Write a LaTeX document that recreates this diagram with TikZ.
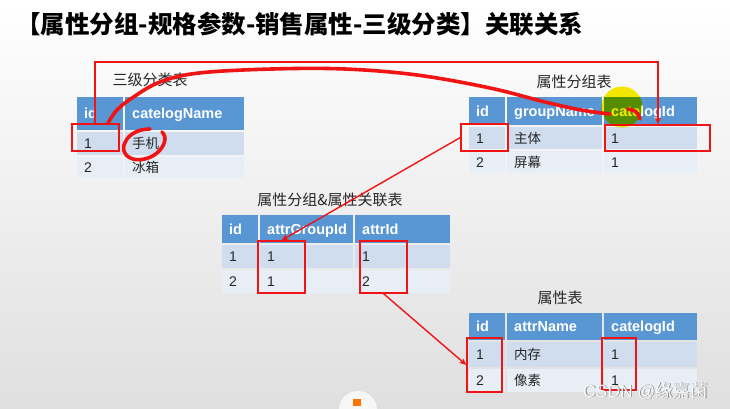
\documentclass[tikz,border=0pt]{standalone}
\usepackage{fontspec}
\setmainfont{Liberation Sans}
\newfontfamily\cjk{Noto Sans CJK SC}
\usetikzlibrary{arrows.meta}
\definecolor{hdrblue}{RGB}{88,150,212}
\definecolor{rowa}{RGB}{207,221,238}
\definecolor{rowb}{RGB}{232,238,246}
\definecolor{redc}{RGB}{240,20,20}
\definecolor{hl}{RGB}{250,238,0}
\newcommand\tc[8]{\fill[#6] (#2,#3) rectangle (#4,#5);
  \node[#7] (#1) at ({#2+7},{(#3+#5)/2+5}) {#8};}
\newcommand\rbox[5]{\node[redbox, minimum width={(#4-#2)*1pt}, minimum height={(#5-#3)*1pt}] (#1) at ({(#2+#4)/2},{(#3+#5)/2}) {};}
\begin{document}
\begin{tikzpicture}[x=1pt,y=-1pt,
  hdr/.style={anchor=base west, inner sep=0pt, text=white, font=\fontsize{14.5}{16}\selectfont\bfseries},
  bd/.style={anchor=base west, inner sep=0pt, text=black!85, font=\fontsize{14}{16}\selectfont},
  bdc/.style={anchor=base west, inner sep=0pt, text=black!85, font=\cjk\fontsize{13.5}{16}\selectfont},
  ttl/.style={inner sep=0pt, text=black!85, font=\cjk\fontsize{15}{17}\selectfont},
  redbox/.style={draw=redc, line width=1.3pt, inner sep=0pt, fill=none},
  redarrow/.style={draw=redc, line width=1.4pt, -{Stealth[length=7pt,width=6pt]}},
  hand/.style={draw=redc, line width=3.6pt, line cap=round, line join=round}]
\useasboundingbox (0,0) rectangle (730,408);
\shade[top color=white, bottom color=gray!25] (0,0) rectangle (730,408);

% title
\node[anchor=west, inner sep=0pt, font=\cjk\bfseries\fontsize{24.5}{27}\selectfont] (title) at (16,24) {【属性分组-规格参数-销售属性-三级分类】关联关系};

% table A
\node[ttl] (tA) at (150,80) {三级分类表};
\tc{Ah1}{77}{97}{123}{130}{hdrblue}{hdr}{id}
\tc{Ah2}{125}{97}{244}{130}{hdrblue}{hdr}{catelogName}
\tc{A11}{77}{132}{123}{155}{rowa}{bd}{1}
\tc{A12}{125}{132}{244}{155}{rowa}{bdc}{手机}
\tc{A21}{77}{157}{123}{178}{rowb}{bd}{2}
\tc{A22}{125}{157}{244}{178}{rowb}{bdc}{冰箱}

% table B
\node[ttl] (tB) at (574,82) {属性分组表};
\tc{Bh1}{469}{97}{505}{125}{hdrblue}{hdr}{id}
\tc{Bh2}{507}{97}{602}{125}{hdrblue}{hdr}{groupName}
\tc{Bh3}{604}{97}{697}{125}{hdrblue}{hdr}{catelogId}
\tc{B11}{469}{127}{505}{149}{rowa}{bd}{1}
\tc{B12}{507}{127}{602}{149}{rowa}{bdc}{主体}
\tc{B13}{604}{127}{697}{149}{rowa}{bd}{1}
\tc{B21}{469}{151}{505}{173}{rowb}{bd}{2}
\tc{B22}{507}{151}{602}{173}{rowb}{bdc}{屏幕}
\tc{B23}{604}{151}{697}{173}{rowb}{bd}{1}

% table C
\node[ttl] (tC) at (330,200) {属性分组\&属性关联表};
\tc{Ch1}{222}{215}{258}{243}{hdrblue}{hdr}{id}
\tc{Ch2}{260}{215}{353}{243}{hdrblue}{hdr}{attrGroupId}
\tc{Ch3}{355}{215}{450}{243}{hdrblue}{hdr}{attrId}
\tc{C11}{222}{245}{258}{268}{rowa}{bd}{1}
\tc{C12}{260}{245}{353}{268}{rowa}{bd}{1}
\tc{C13}{355}{245}{450}{268}{rowa}{bd}{1}
\tc{C21}{222}{270}{258}{293}{rowb}{bd}{2}
\tc{C22}{260}{270}{353}{293}{rowb}{bd}{1}
\tc{C23}{355}{270}{450}{293}{rowb}{bd}{2}

% table D
\node[ttl] (tD) at (560,298) {属性表};
\tc{Dh1}{469}{313}{505}{340}{hdrblue}{hdr}{id}
\tc{Dh2}{507}{313}{602}{340}{hdrblue}{hdr}{attrName}
\tc{Dh3}{604}{313}{697}{340}{hdrblue}{hdr}{catelogId}
\tc{D11}{469}{342}{505}{367}{rowa}{bd}{1}
\tc{D12}{507}{342}{602}{367}{rowa}{bdc}{内存}
\tc{D13}{604}{342}{697}{367}{rowa}{bd}{1}
\tc{D21}{469}{369}{505}{392}{rowb}{bd}{2}
\tc{D22}{507}{369}{602}{392}{rowb}{bdc}{像素}
\tc{D23}{604}{369}{697}{392}{rowb}{bd}{1}

% red boxes
\rbox{rA}{72}{124}{119}{151}
\rbox{rB1}{461}{124}{508}{151}
\rbox{rB3}{605}{125}{710}{151}
\rbox{rC2}{258}{241}{305}{293}
\rbox{rC3}{360}{241}{407}{293}
\rbox{rD1}{467}{338}{502}{392}
\rbox{rD3}{602}{338}{636}{390}

% connectors
\draw[redarrow] ([xshift=-0.5pt]rA.north) -- ++(0,-61.5) -| ([xshift=0.5pt]rB3.north);
\draw[redarrow] (rB1.west) -- (rC2.north);
\draw[redarrow] (rC3.south) -- (rD1.west);

% highlight
\begin{scope}[blend mode=multiply]
\fill[hl] (622,107) circle (20.5);
\end{scope}

% freehand strokes
\draw[hand] plot[smooth, tension=0.6] coordinates {(108,123) (117,110) (132,98) (160,82) (199,73) (272,69) (345,69) (417,75) (490,88) (545,102) (581,110) (610,114)};
\draw[hand] plot[smooth, tension=0.7] coordinates {(628,109) (636,112) (640,119)};
\draw[hand] plot[smooth, tension=0.7] coordinates {(150,129) (138,131) (127,139) (124,151) (133,159) (148,158) (160,150) (165,139) (162,132)};

% watermark and icon
\fill[white!94!gray] (358,410) circle (19);
\node[inner sep=0pt, text=orange!90!red, font=\fontsize{11}{12}\selectfont] (icon) at (357,402) {\rule{8pt}{7pt}};
\node[anchor=base west, inner sep=0pt, text=gray, font=\fontsize{17.5}{19}\selectfont] (wms) at (583.8,397.8) {CSDN @\cjk 缘嘉菌};
\node[anchor=base west, inner sep=0pt, text=white!97!gray, font=\fontsize{17.5}{19}\selectfont] (wm) at (583,397) {CSDN @\cjk 缘嘉菌};
\end{tikzpicture}
\end{document}
